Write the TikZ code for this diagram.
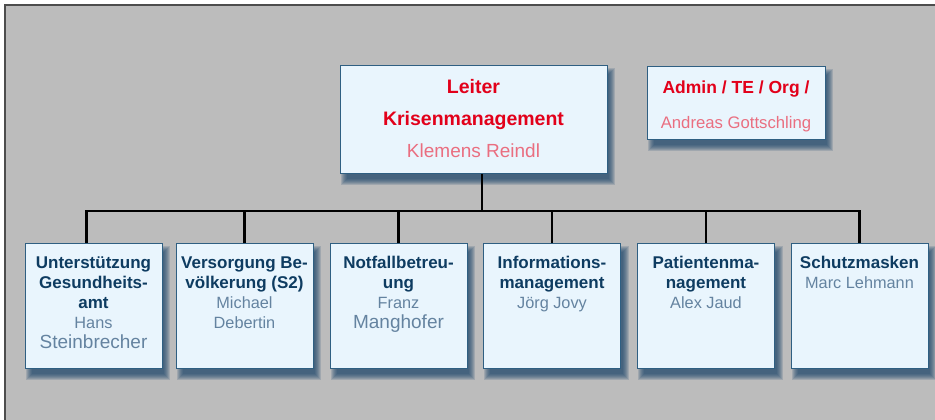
\documentclass[tikz,border=0pt]{standalone}
\usepackage{fontspec}
\setmainfont{Liberation Sans}
\usetikzlibrary{backgrounds}
\definecolor{panelgrey}{HTML}{BCBCBC}
\definecolor{framegrey}{HTML}{4D4D4D}
\definecolor{boxfill}{HTML}{E9F5FD}
\definecolor{boxblue}{HTML}{2F5F82}
\definecolor{shadowblue}{HTML}{1A4569}
\definecolor{headblue}{HTML}{0E3C61}
\definecolor{nameblue}{HTML}{6483A0}
\definecolor{leadred}{HTML}{E2001A}
\definecolor{namered}{HTML}{EA6E80}
\newcommand{\unittext}[2]{\parbox[t][125pt][t]{137pt}{\centering\vspace*{13pt}%
  {\fontsize{17}{20}\selectfont\bfseries\color{headblue}#1\par}%
  {\fontsize{16.3}{20}\selectfont\color{nameblue}#2\par}}}
\tikzset{
  orgbox/.style={draw=boxblue, line width=0.8pt, fill=boxfill, inner sep=0pt, anchor=north},
  unitbox/.style={orgbox, minimum width=137pt, minimum height=125pt},
  busline/.style={line width=2.2pt, black}
}
\begin{document}
\begin{tikzpicture}[x=1pt, y=-1pt]
\useasboundingbox (0,0) rectangle (935,420);
\node[orgbox, minimum width=267pt, minimum height=108pt] (top) at (473.5,65)
  {\parbox[t][108pt][t]{267pt}{\centering\vspace*{14pt}%
   {\fontsize{19.5}{32}\selectfont\bfseries\color{leadred}Leiter\par Krisenmanagement\par}%
   {\fontsize{19}{32}\selectfont\color{namered}Klemens Reindl\par}}};
\node[orgbox, minimum width=178pt, minimum height=73pt] (admin) at (736,66)
  {\parbox[t][73pt][t]{178pt}{\centering\vspace*{14pt}%
   {\fontsize{17.5}{35}\selectfont\bfseries\color{leadred}Admin / TE / Org /\par}%
   {\fontsize{16.7}{35}\selectfont\color{namered}Andreas Gottschling\par}}};
\node[unitbox] (u1) at (93.5,243) {\unittext{Unterstützung\\Gesundheits-\\amt}{Hans\par\fontsize{19}{20}\selectfont Steinbrecher}};
\node[unitbox] (u2) at (244.5,243) {\unittext{Versorgung Be-\\völkerung (S2)}{Michael\\Debertin}};
\node[unitbox] (u3) at (398.5,243) {\unittext{Notfallbetreu-\\ung}{Franz\par\fontsize{19}{20}\selectfont Manghofer}};
\node[unitbox] (u4) at (552,243) {\unittext{Informations-\\management}{Jörg Jovy}};
\node[unitbox] (u5) at (706,243) {\unittext{Patientenma-\\nagement}{Alex Jaud}};
\node[unitbox] (u6) at (859.5,243) {\unittext{Schutzmasken}{Marc Lehmann}};
\coordinate (bus) at (482,211);
\draw[busline] (top.south -| bus) -- (bus);
\draw[busline] ([xshift=-7pt]u1.north) -- ([xshift=-7pt]u1.north |- bus) -- (u6.north |- bus) -- (u6.north);
\foreach \n in {u2,u3,u4,u5}
  \draw[busline] (\n.north) -- (\n.north |- bus);
\begin{scope}[on background layer]
\fill[panelgrey] (5,5) rectangle (935,420);
\draw[framegrey, line width=1.5pt] (5,420) -- (5,5) -- (935,5);
\foreach \n in {top,admin,u1,u2,u3,u4,u5,u6}
  \foreach \r in {0,...,6}
    \fill[shadowblue, opacity=0.17] ([shift={(7-\r,5+\r)}]\n.south west) rectangle ([shift={(2+\r,9-\r)}]\n.north east);
\end{scope}
\end{tikzpicture}
\end{document}
